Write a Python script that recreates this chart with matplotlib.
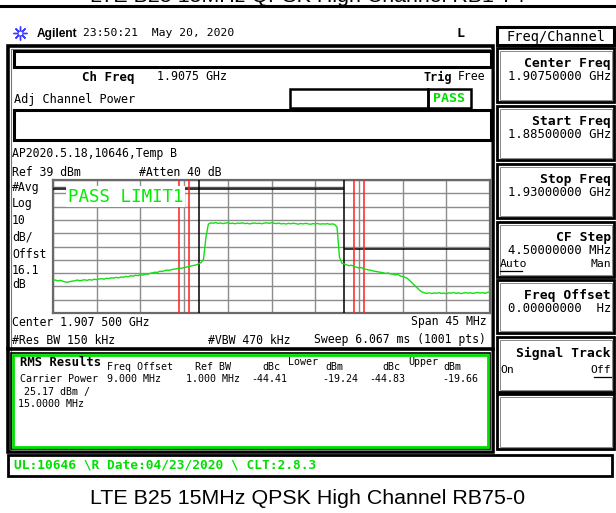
import numpy as np
import matplotlib
matplotlib.use('Agg')
import matplotlib.pyplot as plt
from matplotlib.patches import Rectangle

MONO = 'DejaVu Sans Mono'
SANS = 'Liberation Sans'

# ---------------- data ----------------
start_mhz, stop_mhz = 1885.0, 1930.0
ref_dbm, db_per_div, n_div = 39, 10, 10

trace_dbm = [
    -36.6, -36.2, -36.9, -36.4, -37.1, -37.6, -37.9, -37.4, -37.0, -36.8,
    -36.2, -36.7, -36.4, -36.0, -36.5, -35.9, -36.3, -35.6, -35.9, -35.4,
    -35.2, -35.6, -34.9, -35.1, -34.5, -34.8, -34.2, -34.6, -33.9, -34.1,
    -33.5, -33.8, -33.0, -33.3, -32.6, -32.9, -32.2, -32.5, -31.7, -31.9,
    -31.2, -30.8, -30.3, -30.5, -29.6, -29.8, -29.1, -28.8, -28.9, -28.3,
    -28.0, -27.8, -27.2, -27.4, -26.8, -26.5, -26.1, -25.6, -25.2, -24.8,
    -24.0, -23.1, -20.5, -4.0,
    5.9, 6.8, 6.5, 7.0, 6.4, 6.7, 6.2, 6.6, 6.9, 6.3,
    6.5, 6.1, 6.6, 6.4, 6.8, 6.2, 6.5, 6.0, 6.4, 6.7,
    6.3, 6.5, 6.1, 6.6, 6.8, 6.4, 6.9, 6.5, 6.2, 6.6,
    6.0, 6.3, 5.9, 6.4, 6.1, 6.5, 6.2, 5.8, 6.3, 6.0,
    6.4, 6.1, 5.7, 6.2, 6.0, 6.3, 5.8, 6.1, 5.9, 6.2,
    5.7, 6.0, 5.6, 3.5,
    -19.0, -23.6, -24.2, -24.9, -25.4, -25.1, -26.0, -26.6, -27.1, -26.8,
    -27.9, -28.2, -28.6, -28.9, -29.5, -29.7, -30.1, -30.4, -30.7, -31.3,
    -30.9, -31.6, -31.8, -32.4, -31.9, -33.1, -33.6, -34.2, -35.0, -36.8,
    -38.6, -40.5, -42.3, -43.9, -45.2, -45.8, -46.3, -45.8, -46.4, -45.9,
    -46.2, -45.7, -46.3, -46.0, -46.5, -45.9, -46.1, -45.6, -46.2, -45.8,
    -46.4, -46.0, -45.7, -46.1, -45.8, -46.3, -45.9, -45.6, -46.0, -45.7,
    -46.2, -45.5, -45.2,
]
channel_edges = [1900.0, 1915.0]
adj_lower = [1898.0, 1899.0]
adj_upper = [1916.0, 1917.0]
carrier_limit_dbm = [34.1, 32.2]
upper_limit_dbm = -13.0

res_header = ["Freq Offset", "Ref BW", "dBc", "dBm", "dBc", "dBm"]
res_row = ["9.000 MHz", "1.000 MHz", "-44.41", "-19.24", "-44.83", "-19.66"]

softkeys = [
    ("Center Freq", "1.90750000 GHz"),
    ("Start Freq", "1.88500000 GHz"),
    ("Stop Freq", "1.93000000 GHz"),
    ("CF Step", "4.50000000 MHz"),
    ("Freq Offset", "0.00000000  Hz"),
    ("Signal Track", None),
    ("", None),
]

# ---------------- figure ----------------
fig = plt.figure(figsize=(6.16, 5.13), dpi=100)
bg = fig.add_axes([0, 0, 1, 1])
bg.set_xlim(0, 616)
bg.set_ylim(513, 0)
bg.axis('off')

GREEN = '#00e000'


def rect(x0, y0, x1, y1, lw=1.5, color='black', fill=False, fc='white', z=2):
    bg.add_patch(Rectangle((x0, y0), x1 - x0, y1 - y0, fill=fill, lw=lw,
                           ec=color, fc=fc, zorder=z))


def txt(x, y, s, size=8.25, ha='left', weight='normal', color='black',
        family=MONO, **kw):
    bg.text(x, y, s, fontsize=size, ha=ha, va='center', fontweight=weight,
            color=color, family=family, zorder=5, **kw)


# top caption (cut off) and rule
txt(308, -3, "LTE B25 15MHz QPSK High Channel RB1-74", size=15.4, ha='center',
    family=SANS)
bg.plot([0, 616], [6, 6], color='black', lw=2.2, zorder=3)

# header row
bg.plot([20], [33], marker=(8, 2, 0), ms=10, color='#3c3cff', mew=1.0, zorder=5)
bg.plot([20], [33], marker='o', ms=3.5, mfc='white', mec='#3c3cff', mew=0.8, zorder=6)
txt(37, 33.5, "Agilent", size=8.6, weight='bold', family=SANS)
txt(83, 33.5, "23:50:21  May 20, 2020", size=8.2)
txt(460, 33.5, "L", size=9.5, weight='bold', ha='center')

# main frame
rect(8, 46, 493, 452, lw=2.6)
rect(10.5, 48.5, 490.5, 449.5, lw=0.8, color='#777777')
rect(14, 51, 491, 67, lw=2.2)
txt(82, 77, "Ch Freq", size=9.0, weight='bold')
txt(157, 77, "1.9075 GHz", size=8.4)
txt(423, 77, "Trig", size=8.6, weight='bold')
txt(458, 77, "Free", size=8.3)
txt(14, 99, "Adj Channel Power", size=8.6)
rect(290, 89, 428, 108, lw=1.8)
rect(428, 89, 471, 108, lw=1.8)
txt(449.5, 98.5, "PASS", size=9.6, weight='bold', color=GREEN, ha='center')
rect(14, 110, 491, 140, lw=2.2)
txt(12, 153.5, "AP2020.5.18,10646,Temp B", size=8.3)
txt(12, 172, "Ref 39 dBm", size=8.3)
txt(139, 172, "#Atten 40 dB", size=8.3)
for yy, s in zip([187, 203.5, 220, 237, 254.5, 270, 285],
                 ["#Avg", "Log", "10", "dB/", "Offst", "16.1", "dB"]):
    txt(12, yy, s, size=8.3)
txt(12, 322, "Center 1.907 500 GHz", size=8.3)
txt(487, 322, "Span 45 MHz", size=8.3, ha='right')
txt(12, 340, "#Res BW 150 kHz", size=8.3)
txt(208, 340, "#VBW 470 kHz", size=8.3)
txt(486, 340, "Sweep 6.067 ms (1001 pts)", size=8.3, ha='right')
bg.plot([8, 493], [348.5, 348.5], color='black', lw=2.6, zorder=3)

# results box
rect(11, 353, 490, 449, lw=1.2)
rect(13, 355, 488, 447, lw=2.0, color=GREEN)
txt(20, 363, "RMS Results", size=8.8, weight='bold')
hx = [107, 195, 262, 325, 382, 443]
for x, s in zip(hx, res_header):
    txt(x, 367, s, size=7.2)
txt(288, 362, "Lower", size=7.2)
txt(408, 362, "Upper", size=7.2)
txt(20, 378.5, "Carrier Power", size=7.2)
rx = [107, 186, 287, 358, 405, 478]
for i, (x, s) in enumerate(zip(rx, res_row)):
    txt(x, 378.5, s, size=7.2, ha='left' if i < 2 else 'right')
txt(24, 392, "25.17 dBm /", size=7.2)
txt(18, 404, "15.0000 MHz", size=7.2)

# status bar
rect(8, 455, 612, 476, lw=2.0)
txt(14, 465, r"UL:10646 \R Date:04/23/2020 \ CLT:2.8.3", size=9.3,
    weight='bold', color=GREEN)

# bottom caption
txt(308, 498, "LTE B25 15MHz QPSK High Channel RB75-0", size=15.4,
    ha='center', family=SANS)

# softkeys
rect(497, 27, 614, 45, lw=2.2)
txt(555.5, 36.5, "Freq/Channel", size=9.8, ha='center')
tops = [48, 106, 164, 222, 280, 337, 394]
bots = [102, 160, 218, 277, 333, 392, 449]
for (title, val), t, b in zip(softkeys, tops, bots):
    rect(497, t, 614, b, lw=2.0)
    rect(499.5, t + 2.5, 611.5, b - 2.5, lw=0.7, color='#888888')
    if title:
        txt(611, t + 16, title, size=9.4, weight='bold', ha='right')
    if val:
        txt(611, t + 29, val, size=8.8, ha='right')
# CF Step Auto/Man
txt(500, 264, "Auto", size=8.2)
bg.plot([500, 522], [270.5, 270.5], color='black', lw=0.9, zorder=5)
txt(611, 264, "Man", size=8.2, ha='right')
# Signal Track On/Off
txt(500, 370, "On", size=8.2)
txt(611, 370, "Off", size=8.2, ha='right')
bg.plot([594, 611], [376.5, 376.5], color='black', lw=0.9, zorder=5)

# ---------------- spectrum ----------------
ax = fig.add_axes([53 / 616, 1 - 313 / 513, 437 / 616, 133 / 513])
bottom_dbm = ref_dbm - db_per_div * n_div
ax.set_xlim(start_mhz, stop_mhz)
ax.set_ylim(bottom_dbm, ref_dbm)
ax.set_xticks(np.linspace(start_mhz, stop_mhz, n_div + 1))
ax.set_yticks(np.linspace(bottom_dbm, ref_dbm, n_div + 1))
ax.tick_params(length=0, labelbottom=False, labelleft=False)
ax.grid(True, color='#8c8c8c', lw=1.0)
ax.set_axisbelow(True)
for sp in ax.spines.values():
    sp.set_color('#6a6a6a')
    sp.set_linewidth(1.6)

freqs = np.linspace(start_mhz, stop_mhz, len(trace_dbm))
ax.plot(freqs, trace_dbm, color='#10e010', lw=1.0, zorder=4)

ax.hlines(carrier_limit_dbm[0], start_mhz, channel_edges[1], color='#555555', lw=1.0, zorder=3)
ax.hlines(carrier_limit_dbm[1], start_mhz, channel_edges[1], color='black', lw=1.1, zorder=3)
ax.hlines(upper_limit_dbm, channel_edges[1], stop_mhz, color='black', lw=1.1, zorder=3)
for f in channel_edges:
    ax.axvline(f, color='black', lw=1.1, zorder=3)
for f in adj_lower + adj_upper:
    ax.axvline(f, color='#ff2020', lw=1.1, zorder=3)

ax.text(0.034, 0.875, "PASS LIMIT1", transform=ax.transAxes, fontsize=12.6,
        family=MONO, color='#00ee00', va='center', ha='left', zorder=6,
        bbox=dict(fc='white', ec='none', pad=1.0))

fig.savefig('out.png', dpi=100)
